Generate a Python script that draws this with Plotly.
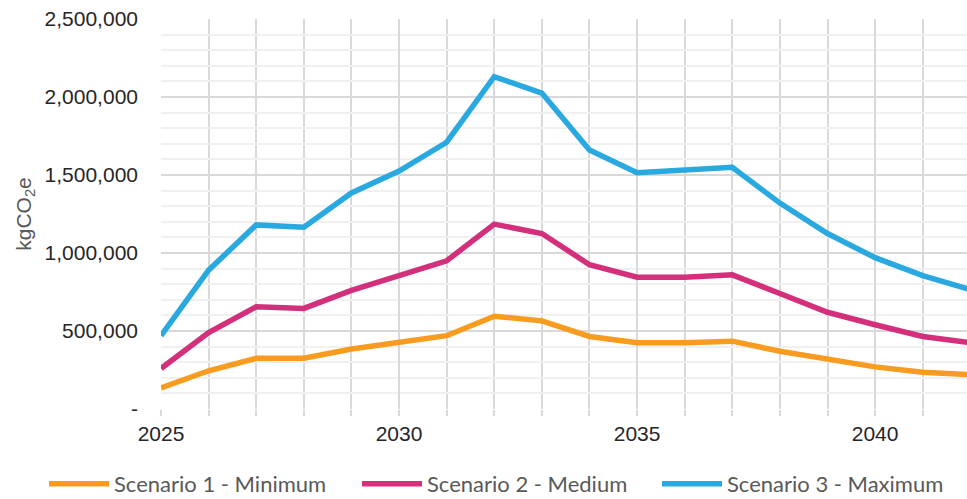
import plotly.graph_objects as go

years = list(range(2025, 2043))
scenario1_min = [135000, 245000, 325000, 325000, 385000, 425000, 470000, 595000, 565000,
                 465000, 425000, 425000, 435000, 370000, 320000, 270000, 235000, 220000]
scenario2_med = [260000, 490000, 655000, 645000, 760000, 855000, 950000, 1185000, 1125000,
                 925000, 845000, 845000, 860000, 740000, 620000, 540000, 465000, 425000]
scenario3_max = [470000, 890000, 1180000, 1165000, 1385000, 1525000, 1710000, 2130000, 2025000,
                 1660000, 1515000, 1530000, 1550000, 1320000, 1125000, 970000, 855000, 765000]

series_names = ["Scenario 1 - Minimum", "Scenario 2 - Medium", "Scenario 3 - Maximum"]
series_colors = ["#F99B1E", "#D42F7B", "#29A9E0"]

y_tickvals = [0, 500000, 1000000, 1500000, 2000000, 2500000]
y_ticktext = ["-", "500,000", "1,000,000", "1,500,000", "2,000,000", "2,500,000"]
x_tickvals = [2025, 2030, 2035, 2040]

legend_ids = ["legend", "legend2", "legend3"]
legend_x_px = [44, 357, 657]

fig = go.Figure()
for name, vals, col, lid in zip(series_names, [scenario1_min, scenario2_med, scenario3_max],
                                series_colors, legend_ids):
    fig.add_trace(go.Scatter(x=years, y=vals, mode="lines", name=name, legend=lid,
                             line=dict(color=col, width=5.5)))

W, H = 967, 499
legend_common = dict(orientation="h", xref="container", yref="container",
                     xanchor="left", y=0.03, yanchor="middle",
                     font=dict(family="Lato", size=22, color="#595959"),
                     itemwidth=60, bgcolor="rgba(0,0,0,0)")

layout_legends = {lid: dict(legend_common, x=px / W) for lid, px in zip(legend_ids, legend_x_px)}

fig.update_layout(
    width=W, height=H,
    margin=dict(l=161, r=0, t=19, b=90),
    paper_bgcolor="white", plot_bgcolor="white",
    showlegend=True,
    font=dict(family="Liberation Sans", color="#262626"),
    **layout_legends,
)

fig.update_xaxes(
    range=[2025, 2041.93], tickvals=x_tickvals, ticktext=[str(v) for v in x_tickvals],
    showgrid=True, gridcolor="#D9D9D9", gridwidth=1.5,
    ticks="outside", ticklen=6, tickcolor="#D9D9D9", tickwidth=1.5,
    minor=dict(dtick=1, tick0=2025, showgrid=True, gridcolor="#D9D9D9", gridwidth=1.5,
               ticks="outside", ticklen=6, tickcolor="#D9D9D9", tickwidth=1.5),
    tickfont=dict(size=21, color="#262626", family="Liberation Sans"),
    zeroline=False, showline=False, fixedrange=True,
)

fig.update_yaxes(
    range=[0, 2500000], tickvals=y_tickvals, ticktext=y_ticktext,
    showgrid=True, gridcolor="#D9D9D9", gridwidth=1.5,
    minor=dict(dtick=100000, tick0=0, showgrid=True, gridcolor="#F0F0F0", gridwidth=1.5),
    ticks="", ticklabelstandoff=22,
    tickfont=dict(size=21, color="#262626", family="Liberation Sans"),
    title=dict(text="kgCO<sub>2</sub>e", font=dict(size=21, color="#595959", family="Liberation Sans"),
               standoff=7),
    zeroline=False, showline=False,
)

fig.write_html("out.html")
